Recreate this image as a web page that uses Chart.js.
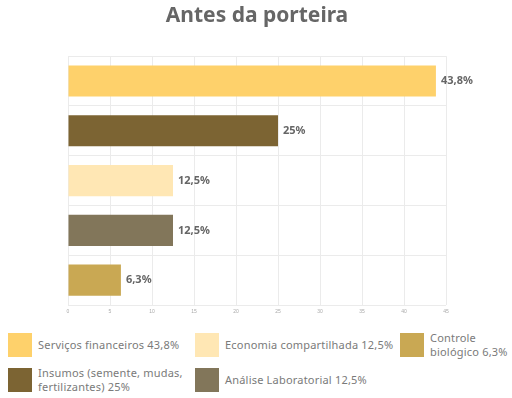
<!DOCTYPE html>
<html>
<head>
<meta charset="utf-8">
<script src="https://cdn.jsdelivr.net/npm/chart.js@4.4.0/dist/chart.umd.min.js"></script>
<style>
  body { margin: 0; background: #fff; font-family: "Noto Sans", sans-serif; }
  #wrap { width: 512px; height: 319px; position: relative; }
  #legend {
    display: grid;
    grid-template-columns: 187px 205px 112px;
    grid-template-rows: 35px 35px;
    grid-auto-flow: column;
    padding-left: 8px;
    margin-top: 8px;
  }
  .item { display: flex; align-items: center; }
  .sw { width: 24px; height: 24px; flex: none; margin-right: 6px; }
  .txt { font-size: 11px; letter-spacing: 0.2px; color: #7a7a7a; line-height: 14px; }
</style>
</head>
<body>
<div id="wrap"><canvas id="chart"></canvas></div>
<div id="legend"></div>
<script>
const categories = ["Serviços financeiros", "Insumos (semente, mudas, fertilizantes)", "Economia compartilhada", "Análise Laboratorial", "Controle biológico"];
const values = [43.8, 25, 12.5, 12.5, 6.3];
const colors = ["#FED16B", "#7C6433", "#FFE7B4", "#82765A", "#C9A853"];
const xTicks = [0, 5, 10, 15, 20, 25, 30, 35, 40, 45];
// legend order as shown in the picture
const legendOrder = [0, 1, 2, 3, 4];

const fmt = v => String(v).replace(".", ",") + "%";

//draw the value next to each bar
const valueLabels = {
  id: "valueLabels",
  afterDatasetsDraw(chart) {
    const ctx = chart.ctx;
    const meta = chart.getDatasetMeta(0);
    ctx.save();
    ctx.font = "bold 11px 'Noto Sans', sans-serif";
    ctx.fillStyle = "#666";
    ctx.textBaseline = "middle";
    meta.data.forEach((bar, i) => {
      ctx.fillText(fmt(values[i]), bar.x + 5, bar.y);
    });
    ctx.restore();
  }
};

const ctx = document.getElementById("chart").getContext("2d");
new Chart(ctx, {
  type: "bar",
  data: {
    labels: categories,
    datasets: [{
      data: values,
      backgroundColor: colors,
      barPercentage: 0.78,
      categoryPercentage: 0.8
    }]
  },
  options: {
    indexAxis: "y",
    responsive: true,
    maintainAspectRatio: false,
    animation: false,
    layout: { padding: { left: 68, right: 66, top: 0, bottom: 0 } },
    scales: {
      x: {
        min: 0,
        max: 45,
        afterBuildTicks: axis => { axis.ticks = xTicks.map(v => ({ value: v })); },
        grid: { color: "#ebebeb", drawTicks: false },
        border: { display: false },
        ticks: { color: "#aaa", font: { size: 5 }, padding: 4 }
      },
      y: {
        grid: { color: "#ebebeb", drawTicks: false },
        border: { display: false },
        ticks: { display: false }
      }
    },
    plugins: {
      legend: { display: false },
      tooltip: { enabled: false },
      title: {
        display: true,
        text: "Antes da porteira",
        color: "#666",
        font: { size: 21, weight: "bold", family: "'Noto Sans', sans-serif" },
        padding: { top: 3, bottom: 28 }
      }
    }
  },
  plugins: [valueLabels]
});

//build legend
const legend = document.getElementById("legend");
legendOrder.forEach(i => {
  let item = document.createElement("div");
  item.classList.add("item");
  item.innerHTML = `<div class="sw" style="background:${colors[i]}"></div><div class="txt">${categories[i]} ${fmt(values[i])}</div>`;
  legend.appendChild(item);
});
</script>
</body>
</html>
